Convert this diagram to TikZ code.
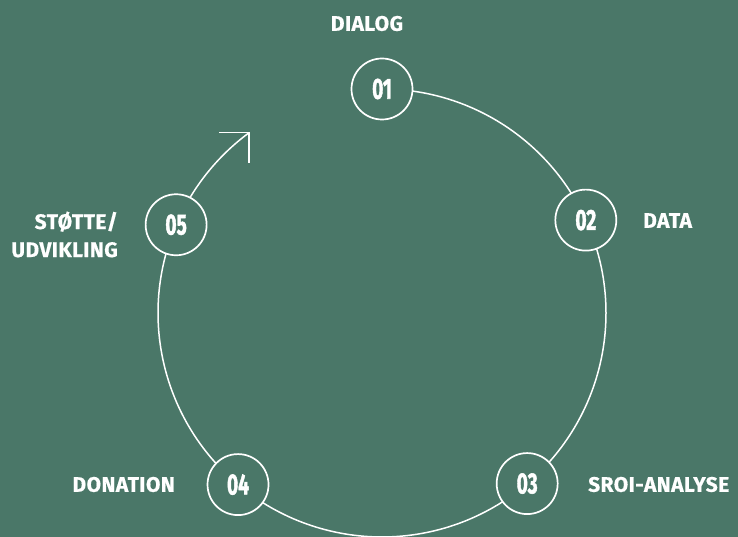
\documentclass[tikz,border=0pt]{standalone}
\usepackage{fontspec}
\setmainfont{Fira Sans}
\newfontfamily\labfont[LetterSpace=2,BoldFeatures={FakeBold=0.6}]{Fira Sans}
\newfontfamily\numfont[BoldFeatures={FakeBold=2}]{Fira Sans}
\usepackage{graphicx}
\usetikzlibrary{calc}
\definecolor{bg}{RGB}{74,119,104}
\newcommand{\numtxt}[1]{\scalebox{0.66}[1]{\numfont\fontsize{29}{29}\selectfont\bfseries #1}}
\begin{document}
\begin{tikzpicture}[x=1pt,y=1pt,
  num/.style={circle, draw=white, line width=1.7pt, fill=bg, minimum size=61pt, inner sep=0pt, text=white},
  lab/.style={text=white, font=\labfont\fontsize{21}{28}\selectfont\bfseries, inner sep=0pt},
  ring/.style={white, line width=1.5pt},
  tipline/.style={white, line width=1.5pt, line join=miter}]
\fill[bg] (0,0) rectangle (738,537);
\useasboundingbox (0,0) rectangle (738,537);
\coordinate (c) at (382,224);
\coordinate (p1) at ($(c)+(90:224)$);
\coordinate (p2) at ($(c)+(24.5:224)$);
\coordinate (p3) at ($(c)+(-49.6:224)$);
\coordinate (p4) at ($(c)+(-130:224)$);
\coordinate (p5) at ($(c)+(156.8:224)$);
\coordinate (tip) at ($(c)+(126.4:224)$);
\draw[ring] (p1) arc[start angle=90, end angle=24.5, radius=224];
\draw[ring] (p2) arc[start angle=24.5, end angle=-49.6, radius=224];
\draw[ring] (p3) arc[start angle=-49.6, end angle=-130, radius=224];
\draw[ring] (p4) arc[start angle=-130, end angle=-203.2, radius=224];
\draw[ring] (p5) arc[start angle=156.8, end angle=126.4, radius=224];
\draw[tipline] (tip) ++(-30,0) coordinate (tipa) (tipa) -- (tip) -- ++(0,-30) coordinate (tipb);
\node[num] (n1) at (p1) {\numtxt{01}};
\node[num] (n2) at (p2) {\numtxt{02}};
\node[num] (n3) at (p3) {\numtxt{03}};
\node[num] (n4) at (p4) {\numtxt{04}};
\node[num] (n5) at (p5) {\numtxt{05}};
\node[lab] (l1) at (367,513.5) {DIALOG};
\node[lab, anchor=west] (l2) at (643,316.5) {DATA};
\node[lab, anchor=west] (l3) at (588,52.5) {SROI-ANALYSE};
\node[lab, anchor=east] (l4) at (175,52.5) {DONATION};
\node[lab, anchor=east, align=right] (l5) at (118,302.5) {STØTTE/\\UDVIKLING};
\end{tikzpicture}
\end{document}
